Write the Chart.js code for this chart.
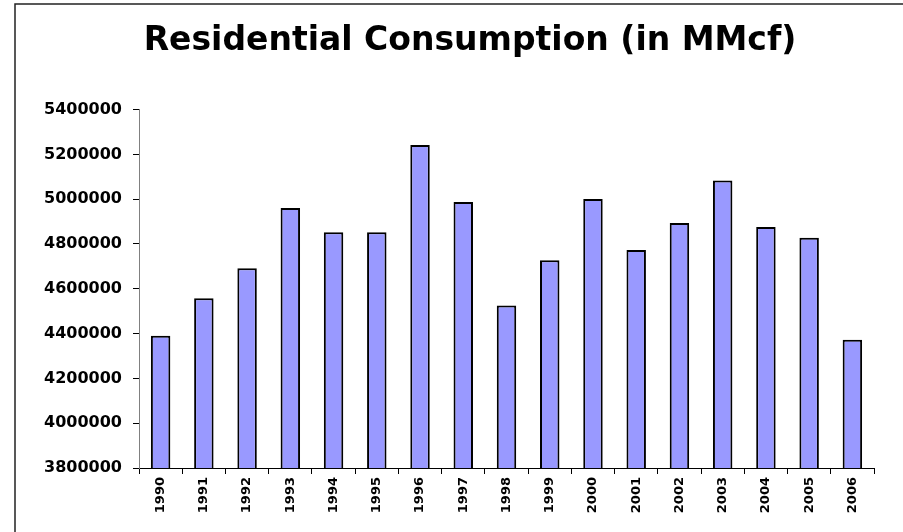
<!DOCTYPE html>
<html>
<head>
<meta charset="utf-8">
<script src="https://cdn.jsdelivr.net/npm/chart.js@4/dist/chart.umd.min.js"></script>
<style>
  html, body { margin: 0; padding: 0; background: #fff; }
  #wrap { width: 903px; height: 532px; }
</style>
</head>
<body>
<div id="wrap"><canvas id="consumption"></canvas></div>
<script>
// years and residential consumption
const years = ['1990','1991','1992','1993','1994','1995','1996','1997','1998',
               '1999','2000','2001','2002','2003','2004','2005','2006'];
const consumption = [4390000, 4558000, 4692000, 4961000, 4853000, 4853000, 5242000,
                     4987000, 4526000, 4727000, 5001000, 4773000, 4894000, 5083000,
                     4876000, 4828000, 4372000];
const yTicks = [3800000, 4000000, 4200000, 4400000, 4600000, 4800000, 5000000, 5200000, 5400000];

// white page with the frame around the plot
const framePlugin = {
  id: 'frame',
  afterLayout(chart) {
    // title sits a bit right of the canvas centre
    if (chart.titleBlock) {
      chart.titleBlock.left = 66;
      chart.titleBlock.right = 874;
    }
  },
  beforeDraw(chart) {
    const ctx = chart.ctx;
    ctx.save();
    ctx.fillStyle = '#fff';
    ctx.fillRect(0, 0, chart.width, chart.height);
    ctx.strokeStyle = '#222';
    ctx.lineWidth = 1.5;
    ctx.strokeRect(15, 4, 1000, 1000);
    ctx.restore();
  }
};

new Chart(document.getElementById('consumption'), {
  type: 'bar',
  data: {
    labels: years,
    datasets: [{
      label: 'Residential Consumption',
      data: consumption,
      backgroundColor: '#9999ff',
      borderColor: '#000',
      borderWidth: 2,
      borderSkipped: false,
      barPercentage: 0.45,
      categoryPercentage: 1
    }]
  },
  options: {
    responsive: true,
    maintainAspectRatio: false,
    animation: false,
    layout: { padding: { left: 0, right: 29, top: 0, bottom: 0 } },
    plugins: {
      legend: { display: false },
      tooltip: { enabled: false },
      title: {
        display: true,
        text: 'Residential Consumption (in MMcf)',
        color: '#000',
        font: { family: 'DejaVu Sans', size: 33, weight: 'bold' },
        padding: { top: 22, bottom: 48 }
      }
    },
    scales: {
      x: {
        afterFit(scale) { scale.height = 64; },
        grid: { display: true, drawOnChartArea: false, tickLength: 6, color: '#000', offset: true },
        border: { color: '#000', width: 1 },
        ticks: {
          color: '#000',
          minRotation: 90,
          maxRotation: 90,
          padding: 3,
          font: { family: 'DejaVu Sans', size: 13, weight: 'bold' }
        }
      },
      y: {
        min: 3800000,
        max: 5400000,
        afterFit(scale) { scale.width = 139; },
        afterBuildTicks(scale) { scale.ticks = yTicks.map(v => ({ value: v })); },
        grid: { display: true, drawOnChartArea: false, tickLength: 6, color: '#000' },
        border: { color: '#808080', width: 1 },
        ticks: {
          color: '#000',
          padding: 11,
          font: { family: 'DejaVu Sans', size: 16, weight: 'bold' },
          callback: v => String(v)
        }
      }
    }
  },
  plugins: [framePlugin]
});
</script>
</body>
</html>
